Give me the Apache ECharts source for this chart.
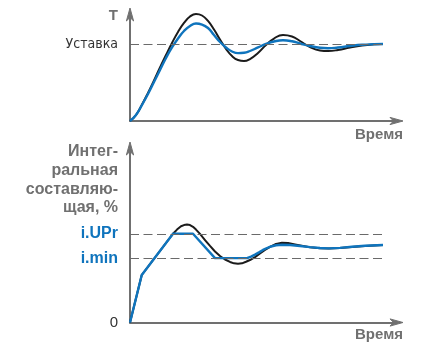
<!DOCTYPE html>
<html>
<head>
<meta charset="utf-8">
<script src="https://cdn.jsdelivr.net/npm/echarts@6/dist/echarts.min.js"></script>
<style>
  html, body { margin: 0; padding: 0; background: #fff; }
  #chart { width: 424px; height: 349px; }
</style>
</head>
<body>
<div id="chart"></div>
<script>
// ---- Temperature response (top panel) ----
const tempTime = [0, 2.4, 4.8, 7.2, 9.6, 12, 14.4, 16.8, 19.2, 21.6, 24, 26.4, 28.8, 31.2, 33.6, 36, 38.4, 40.8, 43.2, 45.6, 48, 51.2, 54.4, 57.6, 61.2, 64.8, 68, 72, 76, 79.2, 83.2, 88, 92.8, 97.6, 101.2];
// without integral limiting
const tempFree = [0, 7.8, 21.4, 36.4, 52.6, 69.5, 85.7, 101.3, 115.6, 127.3, 135.7, 139.0, 137.0, 129.9, 118.8, 105.8, 93.5, 84.4, 79.2, 77.9, 80.5, 88.3, 98.7, 107.1, 111.7, 109.7, 103.9, 96.1, 91.6, 90.9, 92.2, 95.5, 98.1, 99.6, 100];
// with integral limiting
const tempLimited = [0, 7.8, 20.8, 35.1, 50.6, 66.2, 81.8, 95.5, 107.1, 116.9, 123.4, 126.6, 125.3, 120.8, 111.7, 102.6, 95.5, 90.3, 88.1, 88.6, 90.9, 95.5, 100, 103.2, 104.8, 103.5, 100.6, 97.4, 95.1, 94.5, 95.5, 97.4, 99.0, 99.7, 100];
const setpoint = 100;
const setpointLabel = 'Уставка';

// ---- Integral component (bottom panel) ----
const intTimeFree = [0, 4.7, 17.2, 18.8, 20.4, 21.6, 22.8, 24, 25.2, 26.4, 28, 30, 32, 34, 36, 38, 40, 41.6, 43.2, 44.8, 46.4, 48, 50, 52, 54, 56, 58.4, 60.8, 63.2, 66, 69.2, 72, 76, 79.6, 84, 88.8, 94, 101.2];
const intFree = [0, 27.3, 51, 53.4, 55.3, 56.0, 56.3, 56.0, 55.0, 53.4, 50.9, 47.4, 44.0, 40.8, 38.2, 36.2, 34.8, 34.0, 33.7, 34.0, 34.9, 35.9, 37.6, 39.7, 41.7, 43.5, 45.1, 45.8, 45.7, 44.9, 44.0, 43.3, 42.7, 42.5, 42.8, 43.4, 44.0, 44.5];
const intTimeLimited = [0, 4.7, 17.2, 25.2, 34, 46.8, 48.4, 50, 51.6, 53.2, 54.8, 56.4, 58.4, 60.8, 64, 68, 72, 76, 79.6, 84, 88.8, 94, 101.2];
const intLimited = [0, 27.3, 51, 51, 37, 37, 37.9, 39.0, 40.3, 41.7, 42.8, 43.7, 44.4, 44.7, 44.5, 44.0, 43.3, 42.8, 42.6, 42.9, 43.5, 44.1, 44.5];
const iUPr = 51;
const iMin = 37;
const intTicks = [0, iMin, iUPr];
const intTickNames = { 0: '0', 37: 'i.min', 51: 'i.UPr' };

const timeEnd = 101.2;
const timeMax = 106.6;
const tempMax = 138.3;
const intMax = 100;
const xName = 'Время';
const tempName = 'Т';
const intName = 'Интег-\nральная\nсоставляю-\nщая, %';

const AXIS = '#707070';
const BLUE = '#0f74bd';
const DARK = '#1b1b1b';
const DASH = '#6a6a6a';
const NARROW = '"Liberation Sans Narrow", "DejaVu Sans Condensed", sans-serif';
const SANS = '"Liberation Sans", Arial, sans-serif';

const zip = (xs, ys) => xs.map((x, i) => [x, ys[i]]);

const plainLine = () => ({ show: true, onZero: false, lineStyle: { color: AXIS, width: 2 } });

// arrowheads at the far ends of both axes of a panel (dir 0 = time axis, 1 = value axis)
function axisArrowHeads(gridIndex, xMax, yMax) {
  const half = 6.5, wing = 3.6;
  return {
    type: 'custom', xAxisIndex: gridIndex, yAxisIndex: gridIndex,
    coordinateSystem: 'cartesian2d', clip: false, silent: true, z: 6,
    data: [[xMax, 0, 0], [0, yMax, 1]],
    renderItem(params, api) {
      const p = api.coord([api.value(0), api.value(1)]);
      const horizontal = api.value(2) === 0;
      const pts = horizontal
        ? [[p[0] + half, p[1]], [p[0] - half, p[1] - wing], [p[0] - half * 0.45, p[1]], [p[0] - half, p[1] + wing]]
        : [[p[0], p[1] - half], [p[0] + wing, p[1] + half], [p[0], p[1] + half * 0.45], [p[0] - wing, p[1] + half]];
      return {
        type: 'polygon',
        shape: { points: pts },
        style: { fill: AXIS, stroke: AXIS, lineWidth: 1, lineJoin: 'miter' }
      };
    }
  };
}

function dashedLevel(value, gridIndex) {
  return {
    type: 'line', xAxisIndex: gridIndex, yAxisIndex: gridIndex, data: [], z: 1,
    silent: true,
    markLine: {
      silent: true, symbol: ['none', 'none'],
      label: { show: false },
      lineStyle: { color: DASH, width: 1.2, type: [9, 4.5] },
      data: [[{ coord: [0, value] }, { coord: [timeEnd, value] }]]
    }
  };
}

function timeAxis(gridIndex) {
  return {
    type: 'value', gridIndex, min: 0, max: timeMax,
    axisLine: plainLine(),
    axisTick: { show: false }, axisLabel: { show: false }, splitLine: { show: false }
  };
}

const chart = echarts.init(document.getElementById('chart'));
chart.setOption({
  animation: false,
  grid: [
    { left: 130, top: 14.5, width: 266.5, height: 106.5 },
    { left: 130, top: 148.5, width: 266.5, height: 174 }
  ],
  xAxis: [timeAxis(0), timeAxis(1)],
  yAxis: [
    {
      type: 'value', gridIndex: 0, min: 0, max: tempMax,
      axisLine: plainLine(),
      axisTick: { show: false }, splitLine: { show: false },
      axisLabel: {
        customValues: [setpoint], margin: 12,
        formatter: () => setpointLabel,
        color: '#333', fontFamily: NARROW, fontSize: 14
      }
    },
    {
      type: 'value', gridIndex: 1, min: 0, max: intMax,
      axisLine: plainLine(),
      axisTick: { show: false }, splitLine: { show: false },
      axisLabel: {
        customValues: intTicks, margin: 12,
        formatter: v => (v === 0 ? '{z|0}' : '{b|' + intTickNames[v] + '}'),
        rich: {
          z: { color: '#333', fontFamily: SANS, fontSize: 15 },
          b: { color: BLUE, fontFamily: SANS, fontSize: 16, fontWeight: 'bold' }
        }
      }
    }
  ],
  graphic: [
    { type: 'text', style: { text: tempName, x: 118, y: 16, align: 'right', verticalAlign: 'middle', font: 'bold 15px ' + SANS, fill: AXIS } },
    { type: 'text', style: { text: xName, x: 403, y: 135, align: 'right', verticalAlign: 'middle', font: 'bold 15px ' + SANS, fill: AXIS } },
    { type: 'text', style: { text: intName, x: 118, y: 180, align: 'right', verticalAlign: 'middle', font: 'bold 16px ' + SANS, lineHeight: 18.7, fill: AXIS } },
    { type: 'text', style: { text: xName, x: 403, y: 335, align: 'right', verticalAlign: 'middle', font: 'bold 15px ' + SANS, fill: AXIS } }
  ],
  series: [
    dashedLevel(setpoint, 0),
    dashedLevel(iUPr, 1),
    dashedLevel(iMin, 1),
    {
      type: 'line', xAxisIndex: 0, yAxisIndex: 0, data: zip(tempTime, tempFree),
      smooth: 0.5, showSymbol: false, clip: false, z: 3,
      lineStyle: { color: DARK, width: 2 }
    },
    {
      type: 'line', xAxisIndex: 0, yAxisIndex: 0, data: zip(tempTime, tempLimited),
      smooth: 0.5, showSymbol: false, clip: false, z: 4,
      lineStyle: { color: BLUE, width: 2.4 }
    },
    {
      type: 'line', xAxisIndex: 1, yAxisIndex: 1, data: zip(intTimeFree, intFree),
      smooth: false, showSymbol: false, clip: false, z: 3,
      lineStyle: { color: DARK, width: 2, join: 'round' }
    },
    {
      type: 'line', xAxisIndex: 1, yAxisIndex: 1, data: zip(intTimeLimited, intLimited),
      smooth: false, showSymbol: false, clip: false, z: 4,
      lineStyle: { color: BLUE, width: 2.4, join: 'round' }
    },
    axisArrowHeads(0, timeMax, tempMax),
    axisArrowHeads(1, timeMax, intMax)
  ]
});
</script>
</body>
</html>
